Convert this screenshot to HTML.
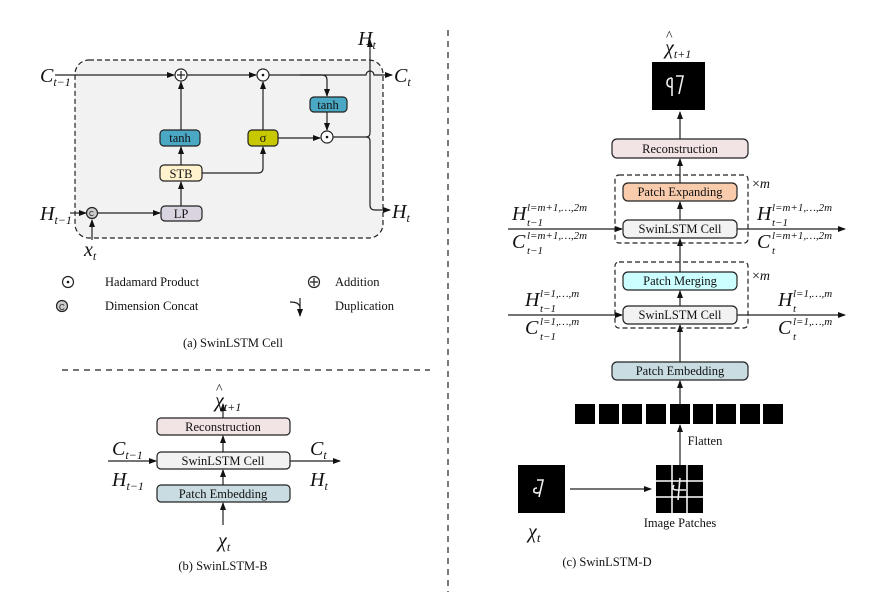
<!DOCTYPE html><html><head><style>body{margin:0;background:#fff}svg{display:block}text{font-family:"Liberation Serif",serif;fill:#111}</style></head><body>
<svg width="896" height="597" viewBox="0 0 896 597" xmlns="http://www.w3.org/2000/svg">
<defs><marker id="a" markerWidth="8" markerHeight="8" refX="7" refY="4" orient="auto" markerUnits="userSpaceOnUse"><path d="M0,1 L8,4 L0,7 Z" fill="#111"/></marker></defs>
<g stroke="#222" stroke-width="1.2" fill="none">
<rect x="75" y="60" width="308" height="178" rx="14" fill="#f2f2f2" stroke-dasharray="5,3"/>
<line x1="448" y1="30" x2="448" y2="592" stroke-dasharray="6,5"/>
<line x1="62" y1="370" x2="430" y2="370" stroke-dasharray="6,5"/>
<path d="M55,75 H174" marker-end="url(#a)"/><path d="M187,75 H256" marker-end="url(#a)"/>
<path d="M269,75 H366 a4,4 0 0 1 8,0 H392" marker-end="url(#a)"/>
<path d="M300,75 H322 q5,0 5,5 V96" marker-end="url(#a)"/>
<path d="M327,112 V130" marker-end="url(#a)"/>
<path d="M181,130 V82" marker-end="url(#a)"/>
<path d="M181,165 V147" marker-end="url(#a)"/>
<path d="M181,206 V182" marker-end="url(#a)"/>
<path d="M202,173 H258 q5,0 5,-5 V147" marker-end="url(#a)"/>
<path d="M263,130 V82" marker-end="url(#a)"/>
<path d="M278,138 H320" marker-end="url(#a)"/>
<path d="M333,137 H366 q4,0 4,-4 V40" marker-end="url(#a)"/>
<path d="M366,137 q4,0 4,4 V205 q0,5 5,5 H390" marker-end="url(#a)"/>
<path d="M70,213 H86" marker-end="url(#a)"/>
<path d="M98,213 H160" marker-end="url(#a)"/>
<path d="M92,240 V220" marker-end="url(#a)"/>
<circle cx="181" cy="75" r="6" fill="#fff"/><path d="M177,75 H185 M181,71 V79"/>
<circle cx="263" cy="75" r="6" fill="#fff"/><circle cx="327" cy="137" r="6" fill="#fff"/>
<circle cx="92" cy="213" r="5.5" fill="#ccc"/>
<rect x="310" y="97" width="37" height="15" rx="4" fill="#4aa8c4"/>
<rect x="160" y="130" width="40" height="16" rx="4" fill="#4aa8c4"/>
<rect x="160" y="165" width="42" height="16" rx="4" fill="#fff2cc"/>
<rect x="248" y="130" width="30" height="16" rx="4" fill="#c8c800"/>
<rect x="161" y="206" width="41" height="15" rx="4" fill="#d9d4e0"/>
<circle cx="68" cy="282" r="5.5" fill="#fff"/><circle cx="314" cy="282" r="5.5" fill="#fff"/><path d="M310,282 H318 M314,278 V286"/>
<circle cx="62" cy="306" r="5.5" fill="#ccc"/>
<path d="M290,302 q10,0 10,6 V316" marker-end="url(#a)"/><path d="M300,308 V298"/>
<path d="M223,418 V404" marker-end="url(#a)"/><path d="M223,452 V436" marker-end="url(#a)"/><path d="M223,485 V470" marker-end="url(#a)"/><path d="M223,525 V503" marker-end="url(#a)"/>
<path d="M108,461 H156" marker-end="url(#a)"/><path d="M290,461 H340" marker-end="url(#a)"/>
<rect x="157" y="418" width="133" height="17" rx="4" fill="#f2e4e4"/>
<rect x="157" y="452" width="133" height="17" rx="4" fill="#f2f2f2"/>
<rect x="157" y="485" width="133" height="17" rx="4" fill="#c9dce2"/>
<path d="M680,139 V112" marker-end="url(#a)"/><path d="M680,183 V159" marker-end="url(#a)"/><path d="M680,220 V202" marker-end="url(#a)"/>
<path d="M680,272 V239" marker-end="url(#a)"/><path d="M680,306 V291" marker-end="url(#a)"/><path d="M680,362 V325" marker-end="url(#a)"/>
<path d="M680,465 V425" marker-end="url(#a)"/><path d="M680,413 V381" marker-end="url(#a)"/>
<path d="M570,489 H651" marker-end="url(#a)"/>
<path d="M508,229 H622" marker-end="url(#a)"/><path d="M737,229 H845" marker-end="url(#a)"/>
<path d="M508,315 H622" marker-end="url(#a)"/><path d="M737,315 H845" marker-end="url(#a)"/>
<rect x="615" y="175" width="133" height="68" rx="4" stroke-dasharray="5,3"/>
<rect x="615" y="262" width="133" height="66" rx="4" stroke-dasharray="5,3"/>
<rect x="612" y="139" width="136" height="19" rx="5" fill="#f2e4e4"/>
<rect x="623" y="183" width="114" height="18" rx="5" fill="#f8cbad"/>
<rect x="623" y="220" width="114" height="18" rx="5" fill="#f2f2f2"/>
<rect x="623" y="272" width="114" height="18" rx="5" fill="#ccffff"/>
<rect x="623" y="306" width="114" height="18" rx="5" fill="#f2f2f2"/>
<rect x="612" y="362" width="136" height="18" rx="5" fill="#c9dce2"/>
</g>
<g fill="#000">
<rect x="652" y="62" width="53" height="48"/>
<rect x="518" y="465" width="47" height="48"/>
<rect x="575" y="404" width="20" height="20"/><rect x="599" y="404" width="20" height="20"/><rect x="622" y="404" width="20" height="20"/><rect x="646" y="404" width="20" height="20"/><rect x="670" y="404" width="20" height="20"/><rect x="693" y="404" width="20" height="20"/><rect x="716" y="404" width="20" height="20"/><rect x="740" y="404" width="20" height="20"/><rect x="763" y="404" width="20" height="20"/>
<rect x="656" y="465" width="47" height="48"/>
</g>
<g stroke="#fff" stroke-width="1.5"><path d="M672,465 V513 M687,465 V513 M656,481 H703 M656,497 H703"/></g>
<g stroke="#eee" stroke-width="1.6" fill="none"><path d="M672,78 q-5,0 -5,5 q0,4 5,4 M672,78 V96 M676,76 H683 L679,94"/><path d="M537,480 H543 L539,497 M537,488 q-4,0 -3,4 q3,2 6,0"/><path d="M680,478 L678,500 M674,485 q-3,5 3,5 H686"/></g>
<g font-size="12.5" text-anchor="middle">
<text x="180" y="142">tanh</text><text x="328" y="109">tanh</text><text x="181" y="178">STB</text><text x="263" y="142">σ</text><text x="181" y="218">LP</text>
<text x="223" y="431">Reconstruction</text><text x="223" y="465">SwinLSTM Cell</text><text x="223" y="498">Patch Embedding</text>
<text x="680" y="153">Reconstruction</text><text x="680" y="196">Patch Expanding</text><text x="680" y="233">SwinLSTM Cell</text>
<text x="680" y="285">Patch Merging</text><text x="680" y="319">SwinLSTM Cell</text><text x="680" y="375">Patch Embedding</text>
<text x="233" y="347">(a) SwinLSTM Cell</text><text x="223" y="570">(b) SwinLSTM-B</text><text x="607" y="566">(c) SwinLSTM-D</text>
<text x="680" y="527">Image Patches</text><text x="705" y="445">Flatten</text>
</g>
<g font-size="12.5"><text x="105" y="286">Hadamard Product</text><text x="105" y="310">Dimension Concat</text><text x="335" y="286">Addition</text><text x="335" y="310">Duplication</text>
<text x="752" y="188" font-size="14">×<tspan font-style="italic">m</tspan></text><text x="752" y="280" font-size="14">×<tspan font-style="italic">m</tspan></text></g>
<g font-size="20" font-style="italic">
<text x="40" y="82">C<tspan font-size="12" dy="4">t−1</tspan></text><text x="394" y="82">C<tspan font-size="12" dy="4">t</tspan></text>
<text x="358" y="45">H<tspan font-size="12" dy="4">t</tspan></text><text x="392" y="218">H<tspan font-size="12" dy="4">t</tspan></text>
<text x="40" y="220">H<tspan font-size="12" dy="4">t−1</tspan></text><text x="84" y="256">x<tspan font-size="12" dy="4">t</tspan></text>
<text x="215" y="407">χ<tspan font-size="12" dy="4">t+1</tspan></text><text x="216" y="393" font-size="14" font-style="normal">^</text>
<text x="112" y="455">C<tspan font-size="12" dy="4">t−1</tspan></text><text x="112" y="486">H<tspan font-size="12" dy="4">t−1</tspan></text>
<text x="310" y="455">C<tspan font-size="12" dy="4">t</tspan></text><text x="310" y="486">H<tspan font-size="12" dy="4">t</tspan></text>
<text x="218" y="547">χ<tspan font-size="12" dy="4">t</tspan></text>
<text x="665" y="54">χ<tspan font-size="12" dy="4">t+1</tspan></text><text x="666" y="40" font-size="14" font-style="normal">^</text>
<text x="528" y="538">χ<tspan font-size="13" dy="4">t</tspan></text>
</g>
<g font-style="italic" font-size="20">
<text x="512" y="220">H</text><text x="512" y="248">C</text><text x="757" y="220">H</text><text x="757" y="248">C</text>
<text x="525" y="306">H</text><text x="525" y="334">C</text><text x="778" y="306">H</text><text x="778" y="334">C</text>
</g>
<g font-style="italic" font-size="11">
<text x="527" y="211">l=m+1,…,2m</text><text x="527" y="226">t−1</text>
<text x="527" y="239">l=m+1,…,2m</text><text x="527" y="254">t−1</text>
<text x="772" y="211">l=m+1,…,2m</text><text x="772" y="226">t−1</text>
<text x="772" y="239">l=m+1,…,2m</text><text x="772" y="254">t</text>
<text x="540" y="297">l=1,…,m</text><text x="540" y="312">t−1</text>
<text x="540" y="325">l=1,…,m</text><text x="540" y="340">t−1</text>
<text x="793" y="297">l=1,…,m</text><text x="793" y="312">t</text>
<text x="793" y="325">l=1,…,m</text><text x="793" y="340">t</text>
</g>
<circle cx="68" cy="282" r="1.3" fill="#111"/><circle cx="263" cy="75" r="1.3" fill="#111"/><circle cx="327" cy="137" r="1.3" fill="#111"/>
<text x="59" y="310" font-size="8" style="font-family:'Liberation Sans',sans-serif">C</text><text x="89" y="216" font-size="7" style="font-family:'Liberation Sans',sans-serif">C</text>
</svg></body></html>
